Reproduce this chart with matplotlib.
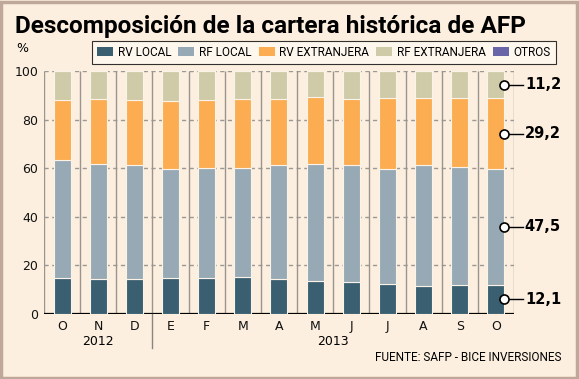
import matplotlib
matplotlib.use("Agg")
import matplotlib.pyplot as plt
import matplotlib.transforms as mtransforms
from matplotlib.patches import Rectangle, Patch
import numpy as np

# --- data ---
months = ["O", "N", "D", "E", "F", "M", "A", "M", "J", "J", "A", "S", "O"]
years = ["2012", "2013"]
rv_local = [14.8, 14.4, 14.4, 14.8, 14.8, 15.3, 14.4, 13.5, 13.1, 12.4, 11.5, 11.9, 12.1]
rf_local = [48.5, 47.5, 47.0, 44.7, 45.1, 44.6, 47.1, 48.4, 48.4, 47.2, 49.9, 48.6, 47.5]
rv_extranjera = [24.7, 26.4, 26.8, 28.0, 28.1, 28.6, 27.1, 27.2, 27.0, 29.1, 27.3, 28.5, 29.2]
rf_extranjera = [12.0, 11.7, 11.8, 12.5, 12.0, 11.5, 11.4, 10.9, 11.5, 11.3, 11.3, 11.0, 11.2]
otros = [0.0] * 13

series = [rv_local, rf_local, rv_extranjera, rf_extranjera, otros]
names = ["RV LOCAL", "RF LOCAL", "RV EXTRANJERA", "RF EXTRANJERA", "OTROS"]
colors = ["#3a5f71", "#97a9b4", "#fcad52", "#cfcaa7", "#6a64a8"]

bg = "#fcefdf"
narrow = ["Roboto", "DejaVu Sans"]

fig = plt.figure(figsize=(5.79, 3.79), dpi=100)
fig.patch.set_facecolor(bg)
ax = fig.add_axes([0.076, 0.1715, 0.8117, 0.6412])
ax.set_facecolor(bg)

x = np.arange(len(months))

# grid and separators
for v in [20, 40, 60, 80, 100]:
    ax.axhline(v, color="#9c9894", lw=1, ls=(0, (3, 2.5)), zorder=1)
ax.vlines(np.arange(-0.5, 12.6, 1), 0, 100, color="#9a948e", lw=1, zorder=1)
ax.axhline(0, color="black", lw=1.6, zorder=2)

bottom = np.zeros(len(months))
for vals, name, c in zip(series, names, colors):
    vals = np.array(vals)
    ax.bar(x, vals, width=0.47, bottom=bottom, color=c, edgecolor="#fbf3e8",
           linewidth=0.8, zorder=3, label=name)
    bottom += vals

ax.set_xlim(-0.5, 12.5)
ax.set_ylim(0, 100)
for s in ax.spines.values():
    s.set_visible(False)
ax.set_yticks([0, 20, 40, 60, 80, 100])
ax.tick_params(axis="both", length=0, labelsize=9, colors="#111111")
ax.tick_params(axis="y", pad=4)
ax.tick_params(axis="x", pad=4)
ax.set_xticks(x)
ax.set_xticklabels(months)

# year labels and separator
trans = mtransforms.blended_transform_factory(ax.transData, ax.transAxes)
ax.text(1, -0.112, years[0], transform=trans, ha="center", va="center", fontsize=9)
ax.text(7.5, -0.112, years[1], transform=trans, ha="center", va="center", fontsize=9)
ax.plot([2.5, 2.5], [0, -0.14], transform=trans, color="#8a8480", lw=1, clip_on=False)

# annotations on last bar
last = len(months) - 1
cum = 0.0
for vals in series[:4]:
    v = vals[last]
    mid = cum + v / 2
    cum += v
    ax.plot([last + 0.235, last + 0.75], [mid, mid], color="black", lw=1,
            clip_on=False, zorder=5)
    ax.plot(last + 0.235, mid, "o", ms=6.5, mfc="white", mec="black", mew=1.2,
            clip_on=False, zorder=6)
    ax.text(last + 0.8, mid, f"{v:.1f}".replace(".", ","), ha="left", va="center",
            fontsize=10.5, fontweight="bold", clip_on=False)

# title, legend, notes
fig.text(0.026, 0.93, "Descomposición de la cartera histórica de AFP",
         family=narrow, fontweight="bold", fontsize=17.6, ha="left", va="center")
fig.text(0.028, 0.873, "%", fontsize=9, ha="left", va="center")

handles = [Patch(facecolor=c, edgecolor="none") for c in colors]
leg = fig.legend(handles, names, ncol=5, loc="center",
                 bbox_to_anchor=(0.5596, 0.862), frameon=True, fancybox=False,
                 prop={"family": narrow, "size": 8.5}, handlelength=1.35,
                 handleheight=0.85, handletextpad=0.4, columnspacing=0.6,
                 borderpad=0.4)
leg.get_frame().set_edgecolor("black")
leg.get_frame().set_facecolor("#fffaf3")
leg.get_frame().set_linewidth(0.8)

fig.text(0.969, 0.058, "FUENTE: SAFP - BICE INVERSIONES", family=narrow,
         fontsize=8.5, ha="right", va="center")

fig.patches.append(Rectangle((0.002, 0.003), 0.995, 0.993, transform=fig.transFigure,
                             fill=False, edgecolor="#bfa899", lw=2.5))

fig.savefig("out.png", dpi=100, facecolor=bg)
